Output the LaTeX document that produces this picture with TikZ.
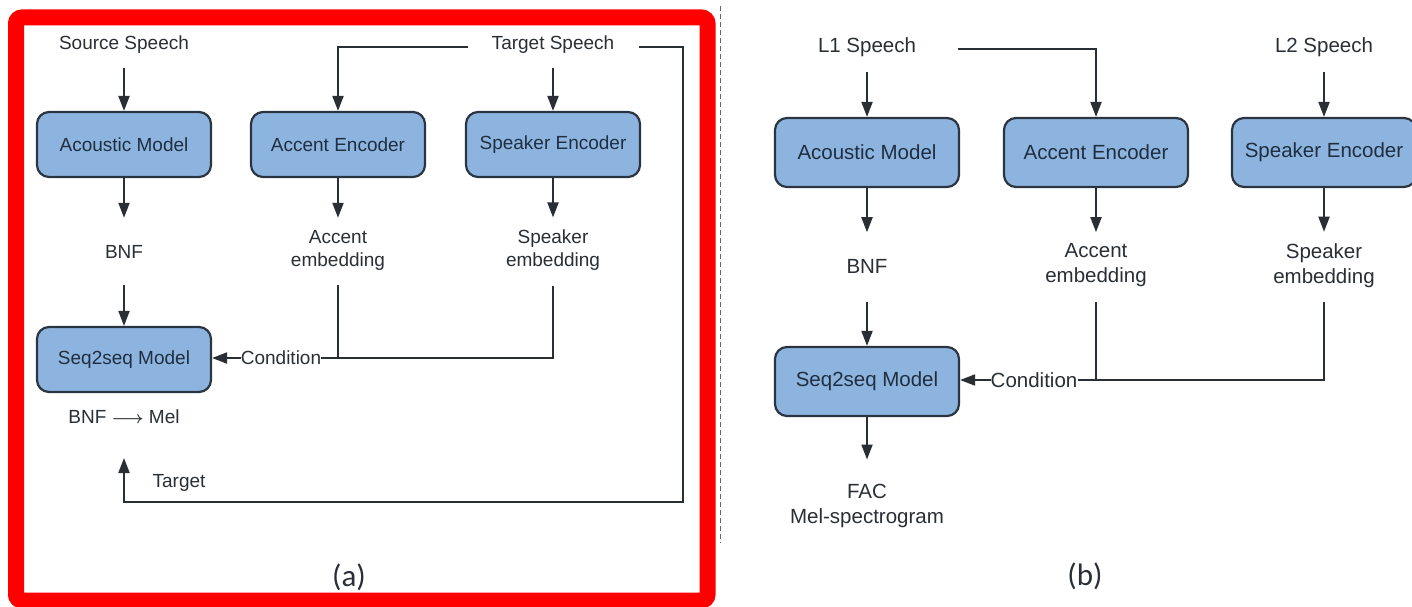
\documentclass[tikz,border=0pt]{standalone}
\usepackage{fontspec}
\setmainfont{Liberation Sans}
\newfontfamily\capfont{Carlito}
\usetikzlibrary{arrows.meta}
\definecolor{boxfill}{HTML}{8DB4DF}
\definecolor{boxedge}{HTML}{2B3542}
\definecolor{ink}{HTML}{2A2F36}
\definecolor{boxink}{HTML}{1F2E40}
\definecolor{framered}{HTML}{FF0000}
\definecolor{divider}{HTML}{666666}
\begin{document}
\begin{tikzpicture}[x=1pt,y=-1pt,
  blk/.style={draw=boxedge, fill=boxfill, line width=2.2pt, rounded corners=12pt,
              text=boxink, inner sep=0pt},
  blka/.style={blk, minimum width=174pt, minimum height=65pt, font=\fontsize{19}{23}\selectfont},
  blkb/.style={blk, minimum width=184pt, minimum height=69pt, font=\fontsize{20.5}{25}\selectfont},
  lbla/.style={inner sep=0pt, text=ink, align=center, font=\fontsize{19}{23}\selectfont},
  lblb/.style={inner sep=0pt, text=ink, align=center, font=\fontsize{20.5}{25}\selectfont},
  ln/.style={draw=ink, line width=2pt},
  arr/.style={ln, -{Triangle[length=15pt,width=11pt]}},
  caption/.style={inner sep=0pt, text=ink, font=\capfont\fontsize{31}{31}\selectfont},
]
% canvas
\fill[white] (0,0) rectangle (1412,607);
\useasboundingbox (0,0) rectangle (1412,607);

% ---------------- panel (a): training ----------------
\draw[framered, line width=16pt, rounded corners=6pt] (16,17.5) rectangle (707.5,600.5);

\node[lbla] (src)  at (124,45)  {Source Speech};
\node[lbla] (tgt)  at (553,45)  {Target Speech};
\node[blka] (ac)   at (124,144.5) {Acoustic Model};
\node[blka] (ae)   at (338,144.5) {Accent Encoder};
\node[blka] (se)   at (553,144.5) {Speaker Encoder};
\node[lbla] (bnf)  at (124,251.5) {BNF};
\node[lbla] (aemb) at (338,250) {Accent\\embedding};
\node[lbla] (semb) at (553,250) {Speaker\\embedding};
\node[blka] (seq)  at (124,359.5) {Seq2seq Model};
\node[lbla] (cond) at (281,358) {Condition};
\node[lbla] (map)  at (124,417) {BNF {\boldmath$\longrightarrow$} Mel};
\node[lbla] (tlab) at (179,483) {Target};
\node[caption] (capa) at (349,577) {(a)};
\coordinate (fbcorner) at (683,502);
\coordinate (fbtip) at (124,458);

\draw[arr, shorten <=14pt] (src) -- (ac);
\draw[arr, shorten <=14pt] (tgt) -- (se);
\draw[arr] ([xshift=-24pt,yshift=-2pt]tgt.west) -| (ae.north);
\draw[arr] ([xshift=25pt,yshift=-2pt]tgt.east) -| (fbcorner) -| (fbtip);
\draw[arr, shorten >=27pt] (ac) -- (bnf);
\draw[arr, shorten <=27pt] (bnf) -- (seq);
\draw[arr, shorten >=12pt] (ae) -- (aemb);
\draw[arr, shorten >=12pt] (se) -- (semb);
\draw[ln, shorten <=15pt] (aemb.south) -- (aemb.south |- cond.east);
\draw[ln, shorten <=15pt] (semb.south) |- (cond.east);
\draw[arr] (cond.west) -- (cond.west -| seq.east);

% divider between the panels
\draw[divider, line width=1pt, dash pattern=on 5pt off 3pt] (720,6) -- (720,543);

% ---------------- panel (b): conversion ----------------
\node[lblb] (l1)    at (867,47.5)  {L1 Speech};
\node[lblb] (l2)    at (1324,47.5) {L2 Speech};
\node[blkb] (ac2)   at (867,152.5)  {Acoustic Model};
\node[blkb] (ae2)   at (1096,152.5) {Accent Encoder};
\node[blkb] (se2)   at (1324,152.5) {Speaker Encoder};
\node[lblb] (bnf2)  at (867,266.5)  {BNF};
\node[lblb] (aemb2) at (1096,265.5) {Accent\\embedding};
\node[lblb] (semb2) at (1324,265.5) {Speaker\\embedding};
\node[blkb] (seq2)  at (867,381.5)  {Seq2seq Model};
\node[lblb] (cond2) at (1034,380)   {Condition};
\node[lblb] (fac)   at (867,505.5)  {FAC\\Mel-spectrogram};
\node[caption] (capb) at (1085,576) {(b)};

\draw[arr, shorten <=15pt] (l1) -- (ac2);
\draw[arr, shorten <=15pt] (l2) -- (se2);
\draw[arr] ([xshift=42pt,yshift=-1.5pt]l1.east) -| (ae2.north);
\draw[arr, shorten >=27pt] (ac2) -- (bnf2);
\draw[arr, shorten <=28pt] (bnf2) -- (seq2);
\draw[arr, shorten >=11.5pt] (ae2) -- (aemb2);
\draw[arr, shorten >=11.5pt] (se2) -- (semb2);
\draw[ln, shorten <=14.5pt] (aemb2.south) -- (aemb2.south |- cond2.east);
\draw[ln, shorten <=14.5pt] (semb2.south) |- (cond2.east);
\draw[arr] (cond2.west) -- (cond2.west -| seq2.east);
\draw[arr, shorten >=24pt] (seq2) -- (fac);
\end{tikzpicture}
\end{document}
